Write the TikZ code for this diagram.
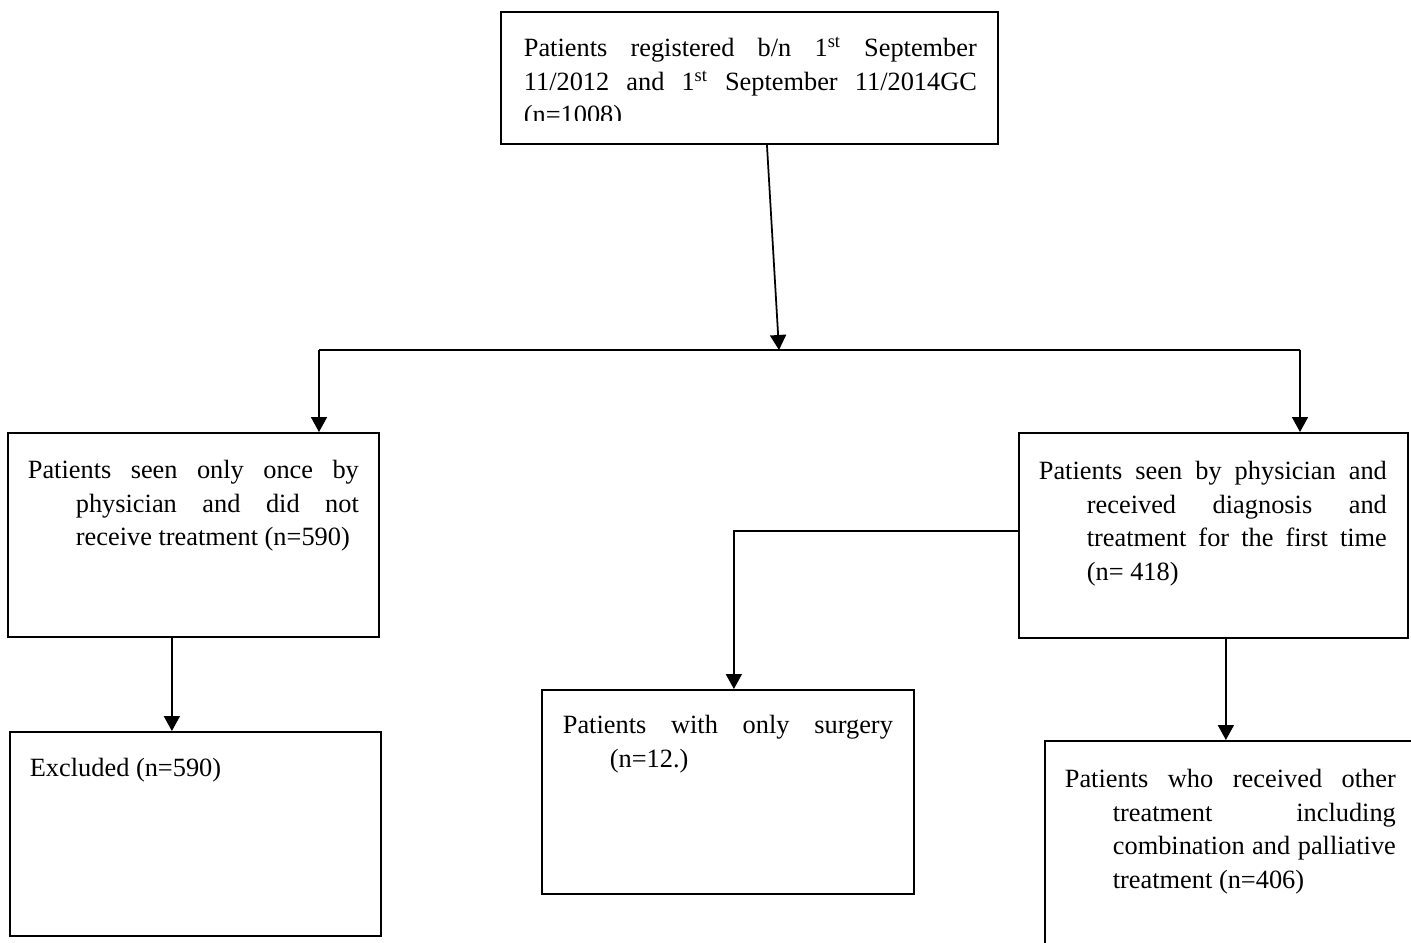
\documentclass[tikz,border=0pt]{standalone}
\usepackage{fontspec}
\setmainfont{Liberation Serif}
\usetikzlibrary{arrows.meta}

\begin{document}
\begin{tikzpicture}[
        blk/.style={rectangle, draw=black, line width=1pt, anchor=north west, inner sep=0pt},
        arr/.style={line width=1pt, -{Triangle[width=0.32cm,length=0.3cm]}}
        ]
        \fontsize{15}{19}\selectfont
        \useasboundingbox (0,0) rectangle (28.22,-18.84);
        \begin{scope}
            \clip (10.02,-0.24) rectangle (19.92,-2.40);
            \node (top) [blk, draw=none] at (10.02,-0.24)
                {\parbox[c][2.6cm][t]{9.9cm}{\hspace*{0.44cm}\makebox[9.06cm][s]{\rule{0pt}{0.88cm}Patients registered b/n 1\textsuperscript{st} September}\\
                \hspace*{0.44cm}\makebox[9.06cm][s]{11/2012 and 1\textsuperscript{st} September 11/2014GC}\\
                \hspace*{0.44cm}(n=1008)}};
        \end{scope}
        \draw[line width=1pt] (top.north west) rectangle (top.south east);
        \node (once) [blk] at (0.14,-8.64)
            {\parbox[c][4.08cm][t]{7.42cm}{\hspace*{0.4cm}\makebox[6.62cm][s]{\rule{0pt}{0.92cm}Patients seen only once by}\\
            \hspace*{1.36cm}\makebox[5.66cm][s]{physician and did not}\\
            \hspace*{1.36cm}receive treatment (n=590)}};
        \node (first) [blk] at (20.36,-8.64)
            {\parbox[c][4.1cm][t]{7.78cm}{\hspace*{0.4cm}\makebox[6.96cm][s]{\rule{0pt}{0.94cm}Patients seen by physician and}\\
            \hspace*{1.36cm}\makebox[6.0cm][s]{received diagnosis and}\\
            \hspace*{1.36cm}\makebox[6.0cm][s]{treatment for the first time}\\
            \hspace*{1.36cm}(n= 418)}};
        \node (excl) [blk] at (0.18,-14.62)
            {\parbox[c][4.08cm][t]{7.42cm}{\hspace*{0.4cm}\rule{0pt}{0.9cm}Excluded (n=590)}};
        \node (surg) [blk] at (10.82,-13.78)
            {\parbox[c][4.08cm][t]{7.44cm}{\hspace*{0.42cm}\makebox[6.6cm][s]{\rule{0pt}{0.88cm}Patients with only surgery}\\
            \hspace*{1.36cm}(n=12.)}};
        \node (other) [blk] at (20.88,-14.8)
            {\parbox[c][4.2cm][t]{7.5cm}{\hspace*{0.4cm}\makebox[6.62cm][s]{\rule{0pt}{0.94cm}Patients who received other}\\
            \hspace*{1.36cm}\makebox[5.66cm][s]{treatment including}\\
            \hspace*{1.36cm}\makebox[5.66cm][s]{combination and palliative}\\
            \hspace*{1.36cm}treatment (n=406)}};
        \coordinate (split) at (15.58,-7.0);
        \coordinate (splitL) at (6.38,-7.0);
        \coordinate (splitR) at (26.0,-7.0);
        \coordinate (oL) at ([xshift=-0.43cm]once.south);
        \coordinate (fR) at ([xshift=0.25cm]first.south);
        \draw[arr] ([xshift=0.35cm]top.south) -- (split);
        \draw[line width=1pt] (splitL) -- (splitR);
        \draw[arr] (splitL) -- (splitL |- once.north);
        \draw[arr] (splitR) -- (splitR |- first.north);
        \draw[arr] (oL) -- (oL |- excl.north);
        \draw[arr] ([yshift=0.09cm]first.west) -| ([xshift=0.12cm]surg.north);
        \draw[arr] (fR) -- (fR |- other.north);
    \end{tikzpicture}
\end{document}
